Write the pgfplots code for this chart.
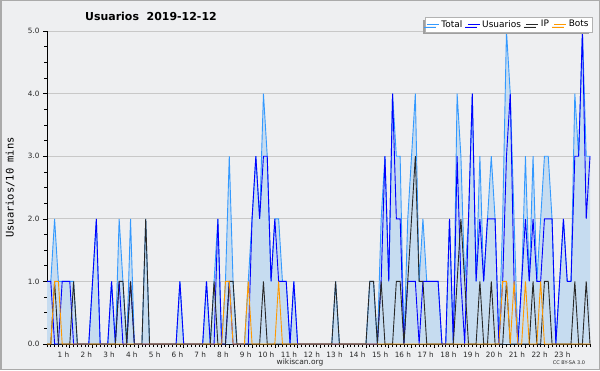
\documentclass[border=0pt]{standalone}
\usepackage{fontspec}
\setmainfont{DejaVu Sans}
\setmonofont{DejaVu Sans Mono}
\usepackage{pgfplots}
\pgfplotsset{compat=1.18}
\usepackage{pgfplotstable}
\usetikzlibrary{shadows}

\definecolor{bg}{RGB}{238,239,241}
\definecolor{framec}{RGB}{170,170,170}
\definecolor{gridc}{RGB}{200,200,200}
\definecolor{totline}{RGB}{51,153,255}
\definecolor{totfill}{RGB}{198,220,240}
\definecolor{usr}{RGB}{0,0,255}
\definecolor{ipc}{RGB}{40,40,40}
\definecolor{bot}{RGB}{255,153,0}

\pgfplotstableread{
x T U IP B
0 1 1 0 0
1 1 1 0 0
2 2 0 1 1
3 1 0 0 1
4 1 1 0 0
5 1 1 0 0
6 1 1 0 0
7 1 0 1 0
8 0 0 0 0
9 0 0 0 0
10 0 0 0 0
11 0 0 0 0
12 1 1 0 0
13 2 2 0 0
14 0 0 0 0
15 0 0 0 0
16 0 0 0 0
17 1 1 0 0
18 0 0 0 0
19 2 1 1 0
20 1 0 1 0
21 0 0 0 0
22 2 1 1 0
23 0 0 0 0
24 0 0 0 0
25 0 0 0 0
26 2 0 2 0
27 0 0 0 0
28 0 0 0 0
29 0 0 0 0
30 0 0 0 0
31 0 0 0 0
32 0 0 0 0
33 0 0 0 0
34 0 0 0 0
35 1 1 0 0
36 0 0 0 0
37 0 0 0 0
38 0 0 0 0
39 0 0 0 0
40 0 0 0 0
41 0 0 0 0
42 1 1 0 0
43 0 0 0 0
44 1 0 1 0
45 2 2 0 0
46 0 0 0 0
47 1 0 0 1
48 3 1 1 1
49 1 0 1 0
50 0 0 0 0
51 0 0 0 0
52 0 0 0 0
53 1 0 0 1
54 2 2 0 0
55 3 3 0 0
56 2 2 0 0
57 4 3 1 0
58 3 3 0 0
59 1 1 0 0
60 2 2 0 0
61 2 1 0 1
62 1 1 0 0
63 1 1 0 0
64 0 0 0 0
65 1 1 0 0
66 0 0 0 0
67 0 0 0 0
68 0 0 0 0
69 0 0 0 0
70 0 0 0 0
71 0 0 0 0
72 0 0 0 0
73 0 0 0 0
74 0 0 0 0
75 0 0 0 0
76 1 0 1 0
77 0 0 0 0
78 0 0 0 0
79 0 0 0 0
80 0 0 0 0
81 0 0 0 0
82 0 0 0 0
83 0 0 0 0
84 0 0 0 0
85 1 0 1 0
86 1 0 1 0
87 0 0 0 0
88 2 1 1 0
89 3 3 0 0
90 1 1 0 0
91 4 4 0 0
92 3 2 1 0
93 3 2 1 0
94 0 0 0 0
95 2 1 1 0
96 3 1 2 0
97 4 1 3 0
98 1 0 1 0
99 2 1 1 0
100 1 1 0 0
101 1 1 0 0
102 1 1 0 0
103 1 1 0 0
104 0 0 0 0
105 0 0 0 0
106 2 2 0 0
107 0 0 0 0
108 4 3 1 0
109 3 1 2 0
110 1 0 1 0
111 2 2 0 0
112 4 4 0 0
113 1 1 0 0
114 3 2 1 0
115 1 1 0 0
116 2 2 0 0
117 3 2 1 0
118 2 2 0 0
119 0 0 0 0
120 2 1 0 1
121 5 3 1 1
122 4 4 0 0
123 2 1 0 1
124 0 0 0 0
125 1 1 0 0
126 3 2 0 1
127 1 1 0 0
128 3 2 1 0
129 1 1 0 0
130 2 1 0 1
131 3 2 1 0
132 3 2 1 0
133 2 2 0 0
134 0 0 0 0
135 1 1 0 0
136 2 2 0 0
137 1 1 0 0
138 1 1 0 0
139 4 3 1 0
140 3 3 0 0
141 5 5 0 0
142 3 2 1 0
143 3 3 0 0
}\data

\begin{document}
\begin{tikzpicture}[x=1bp,y=1bp]
\fill[bg] (0,0) rectangle (600,370);
\draw[framec, line width=1.5bp] (0.75,0.75) rectangle (599.25,369.25);
\begin{axis}[
  at={(47bp,26bp)}, anchor=south west,
  scale only axis, width=543bp, height=313bp,
  xmin=0, xmax=143, ymin=0, ymax=5,
  axis lines=left,
  axis line style={black, line width=0.8bp, -},
  clip=false,
  ytick={0,1,2,3,4,5},
  minor y tick num=3,
  yticklabel style={/pgf/number format/.cd, fixed, fixed zerofill, precision=1, assume math mode=true, /tikz/.cd, font=\fontsize{7.3}{8}\selectfont, text=black!85},
  ymajorgrids,
  major grid style={gridc, line width=0.8bp},
  xtick={6,12,18,24,30,36,42,48,54,60,66,72,78,84,90,96,102,108,114,120,126,132,138},
  xticklabels={1 h,2 h,3 h,4 h,5 h,6 h,7 h,8 h,9 h,10 h,11 h,12 h,13 h,14 h,15 h,16 h,17 h,18 h,19 h,20 h,21 h,22 h,23 h},
  minor xtick={0,...,143},
  xticklabel style={font=\fontsize{7.3}{8}\selectfont, text=black!85, anchor=north east, xshift=3bp},
  tick align=outside,
  major tick length=4bp, minor tick length=3bp,
  tick style={black, line width=0.6bp},
  ylabel={\texttt{Usuarios/10 mins}},
  ylabel style={at={(axis description cs:-0.068,0.5)}, anchor=center, font=\fontsize{10.5}{11}\selectfont},
  legend style={at={(1.0037,1.045)}, anchor=north east, legend columns=-1, draw=gray!60, fill=white,
    font=\fontsize{9}{10}\selectfont, inner sep=1.2bp, row sep=0bp,
    drop shadow={shadow xshift=-2.5bp, shadow yshift=-2.5bp, fill=gray!75, opacity=1},
    /tikz/every even column/.append style={column sep=3bp}},
  legend image code/.code={\draw[#1, line width=0.9bp] (0bp,0bp) -- (12bp,0bp);},
]
\addplot[fill=totfill, draw=none, forget plot] table[x=x, y=T] {\data} \closedcycle;
\addplot[totline, line width=0.9bp] table[x=x, y=T] {\data};
\addlegendentry{Total}
\addplot[usr, line width=0.9bp] table[x=x, y=U] {\data};
\addlegendentry{Usuarios}
\addplot[ipc, line width=0.9bp] table[x=x, y=IP] {\data};
\addlegendentry{IP}
\addplot[bot, line width=0.9bp] table[x=x, y=B] {\data};
\addlegendentry{Bots}
\end{axis}
\node[font=\bfseries\fontsize{11}{12}\selectfont, anchor=west, inner sep=0] at (85,354) {Usuarios\ \ 2019-12-12};
\node[font=\fontsize{7.5}{8}\selectfont, text=black!85] at (300,8) {wikiscan.org};
\node[font=\fontsize{5}{6}\selectfont, text=black!85] at (569,7) {CC BY-SA 3.0};
\end{tikzpicture}
\end{document}
